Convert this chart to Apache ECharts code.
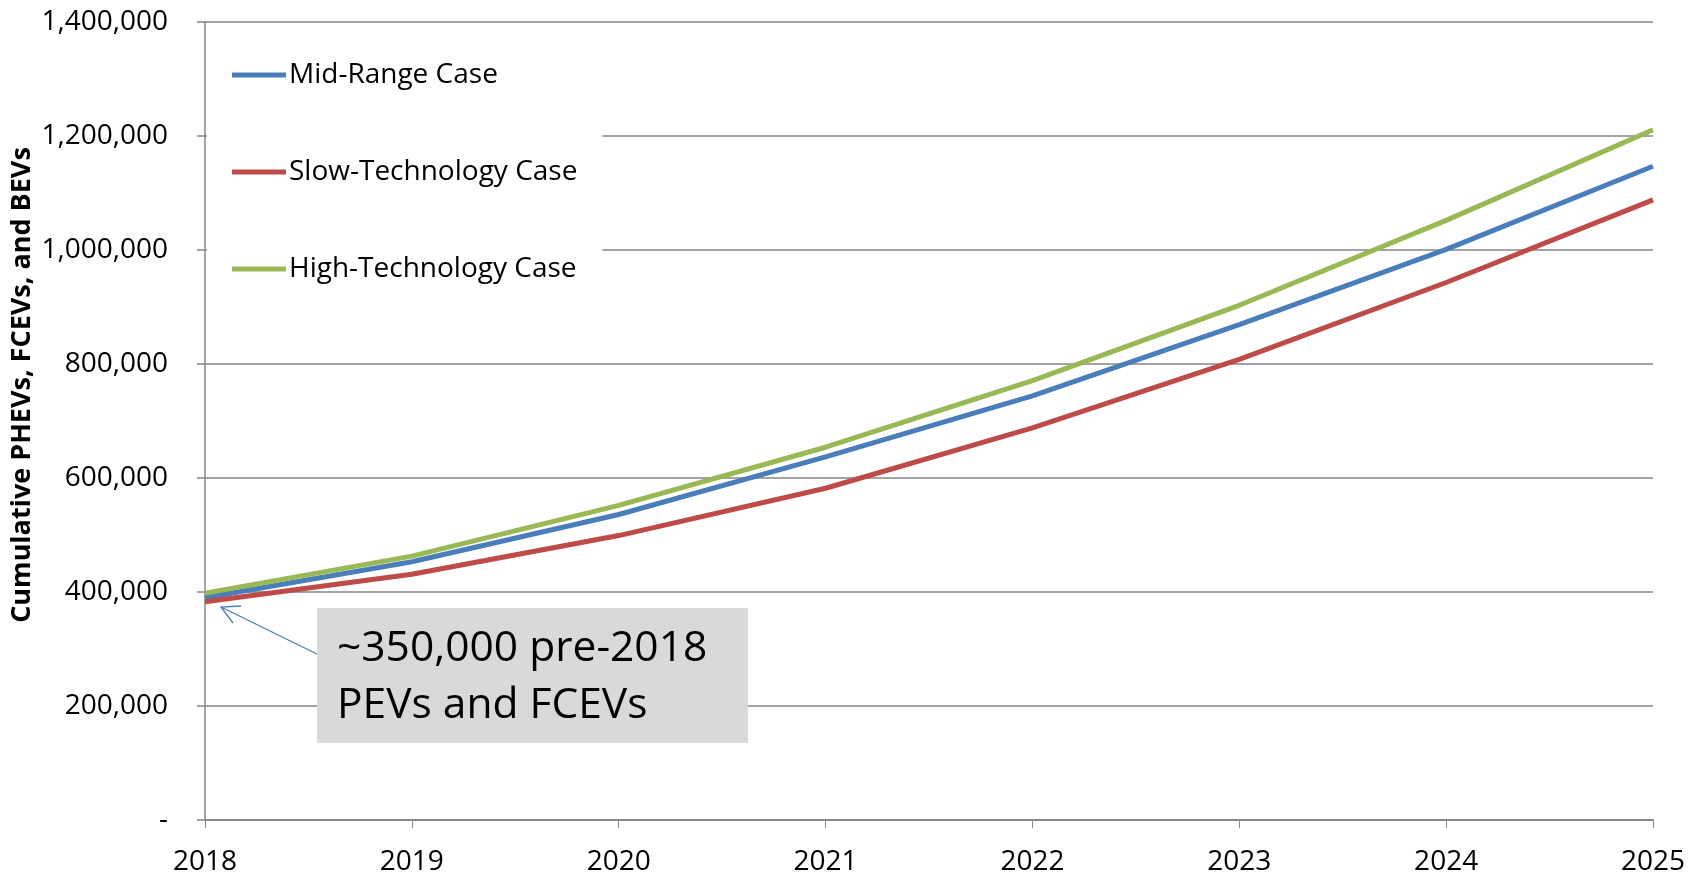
<!DOCTYPE html>
<html>
<head>
<meta charset="utf-8">
<script src="https://cdn.jsdelivr.net/npm/echarts@6/dist/echarts.min.js"></script>
<style>
  html, body { margin: 0; padding: 0; background: #fff; }
  #main { width: 1690px; height: 882px; }
</style>
</head>
<body>
<div id="main"></div>
<script>
// 年份与各情景累计车辆数
var years = ['2018', '2019', '2020', '2021', '2022', '2023', '2024', '2025'];
var midRange = [390000, 453000, 536000, 637000, 744000, 869000, 1001000, 1147000];
var slowTech = [383000, 431000, 499000, 582000, 688000, 808000, 943000, 1088000];
var highTech = [398000, 463000, 552000, 654000, 771000, 903000, 1052000, 1211000];
var seriesNames = ['Mid-Range Case', 'Slow-Technology Case', 'High-Technology Case'];
var colors = ['#4a7ebb', '#be4b48', '#98b954'];

var font = 'Open Sans';
var gray = '#868686';

function fmt(v) {
    if (v === 0) return '-';
    return v.toString().replace(/\B(?=(\d{3})+(?!\d))/g, ',');
}

var chart = echarts.init(document.getElementById('main'));
var option = {
    animation: false,
    color: colors,
    grid: { left: 205, right: 37, top: 22, bottom: 62 },
    legend: {
        orient: 'vertical',
        left: 207,
        top: 30,
        padding: [30, 25, 38, 25],
        backgroundColor: '#fff',
        icon: 'rect',
        itemWidth: 54,
        itemHeight: 5,
        itemGap: 67,
        textStyle: { fontFamily: font, fontSize: 28, color: '#000', lineHeight: 30, padding: [0, 0, 0, -2] },
        data: seriesNames
    },
    xAxis: {
        type: 'category',
        data: years,
        boundaryGap: false,
        axisLine: { lineStyle: { color: gray, width: 2 } },
        axisTick: { length: 8, lineStyle: { color: gray, width: 1 } },
        axisLabel: { fontFamily: font, fontSize: 28, color: '#000', margin: 28 }
    },
    yAxis: {
        type: 'value',
        min: 0,
        max: 1400000,
        interval: 200000,
        axisLine: { show: true, lineStyle: { color: gray, width: 1.5 } },
        axisTick: { show: true, length: 8, lineStyle: { color: gray, width: 1.5 } },
        splitLine: { lineStyle: { color: gray, width: 1.5 } },
        axisLabel: { fontFamily: font, fontSize: 28, color: '#000', margin: 37, formatter: fmt }
    },
    series: [
        { name: seriesNames[0], type: 'line', data: midRange, symbol: 'none', lineStyle: { width: 5 } },
        { name: seriesNames[1], type: 'line', data: slowTech, symbol: 'none', lineStyle: { width: 5 } },
        { name: seriesNames[2], type: 'line', data: highTech, symbol: 'none', lineStyle: { width: 5 } }
    ],
    graphic: [
        {
            type: 'text',
            rotation: Math.PI / 2,
            x: 22, y: 385,
            style: {
                text: 'Cumulative PHEVs, FCEVs, and BEVs',
                fontFamily: font, fontSize: 27, fontWeight: 'bold', fill: '#000',
                align: 'center', verticalAlign: 'middle'
            }
        },
        {
            type: 'rect',
            z: 10,
            shape: { x: 317, y: 608, width: 431, height: 135 },
            style: { fill: '#d9d9d9' }
        },
        {
            type: 'text',
            z: 11,
            x: 337, y: 677,
            style: {
                text: '~350,000 pre-2018\nPEVs and FCEVs',
                fontFamily: font, fontSize: 42.5, fill: '#000', lineHeight: 57,
                verticalAlign: 'middle'
            }
        },
        {
            type: 'polyline',
            z: 9,
            shape: { points: [[319, 655], [221, 607]] },
            style: { stroke: '#4a7ebb', lineWidth: 1.3, fill: null }
        },
        {
            type: 'polyline',
            z: 9,
            shape: { points: [[233, 623], [221, 607], [241, 606]] },
            style: { stroke: '#4a7ebb', lineWidth: 1.3, fill: null }
        }
    ]
};
chart.setOption(option);
</script>
</body>
</html>
